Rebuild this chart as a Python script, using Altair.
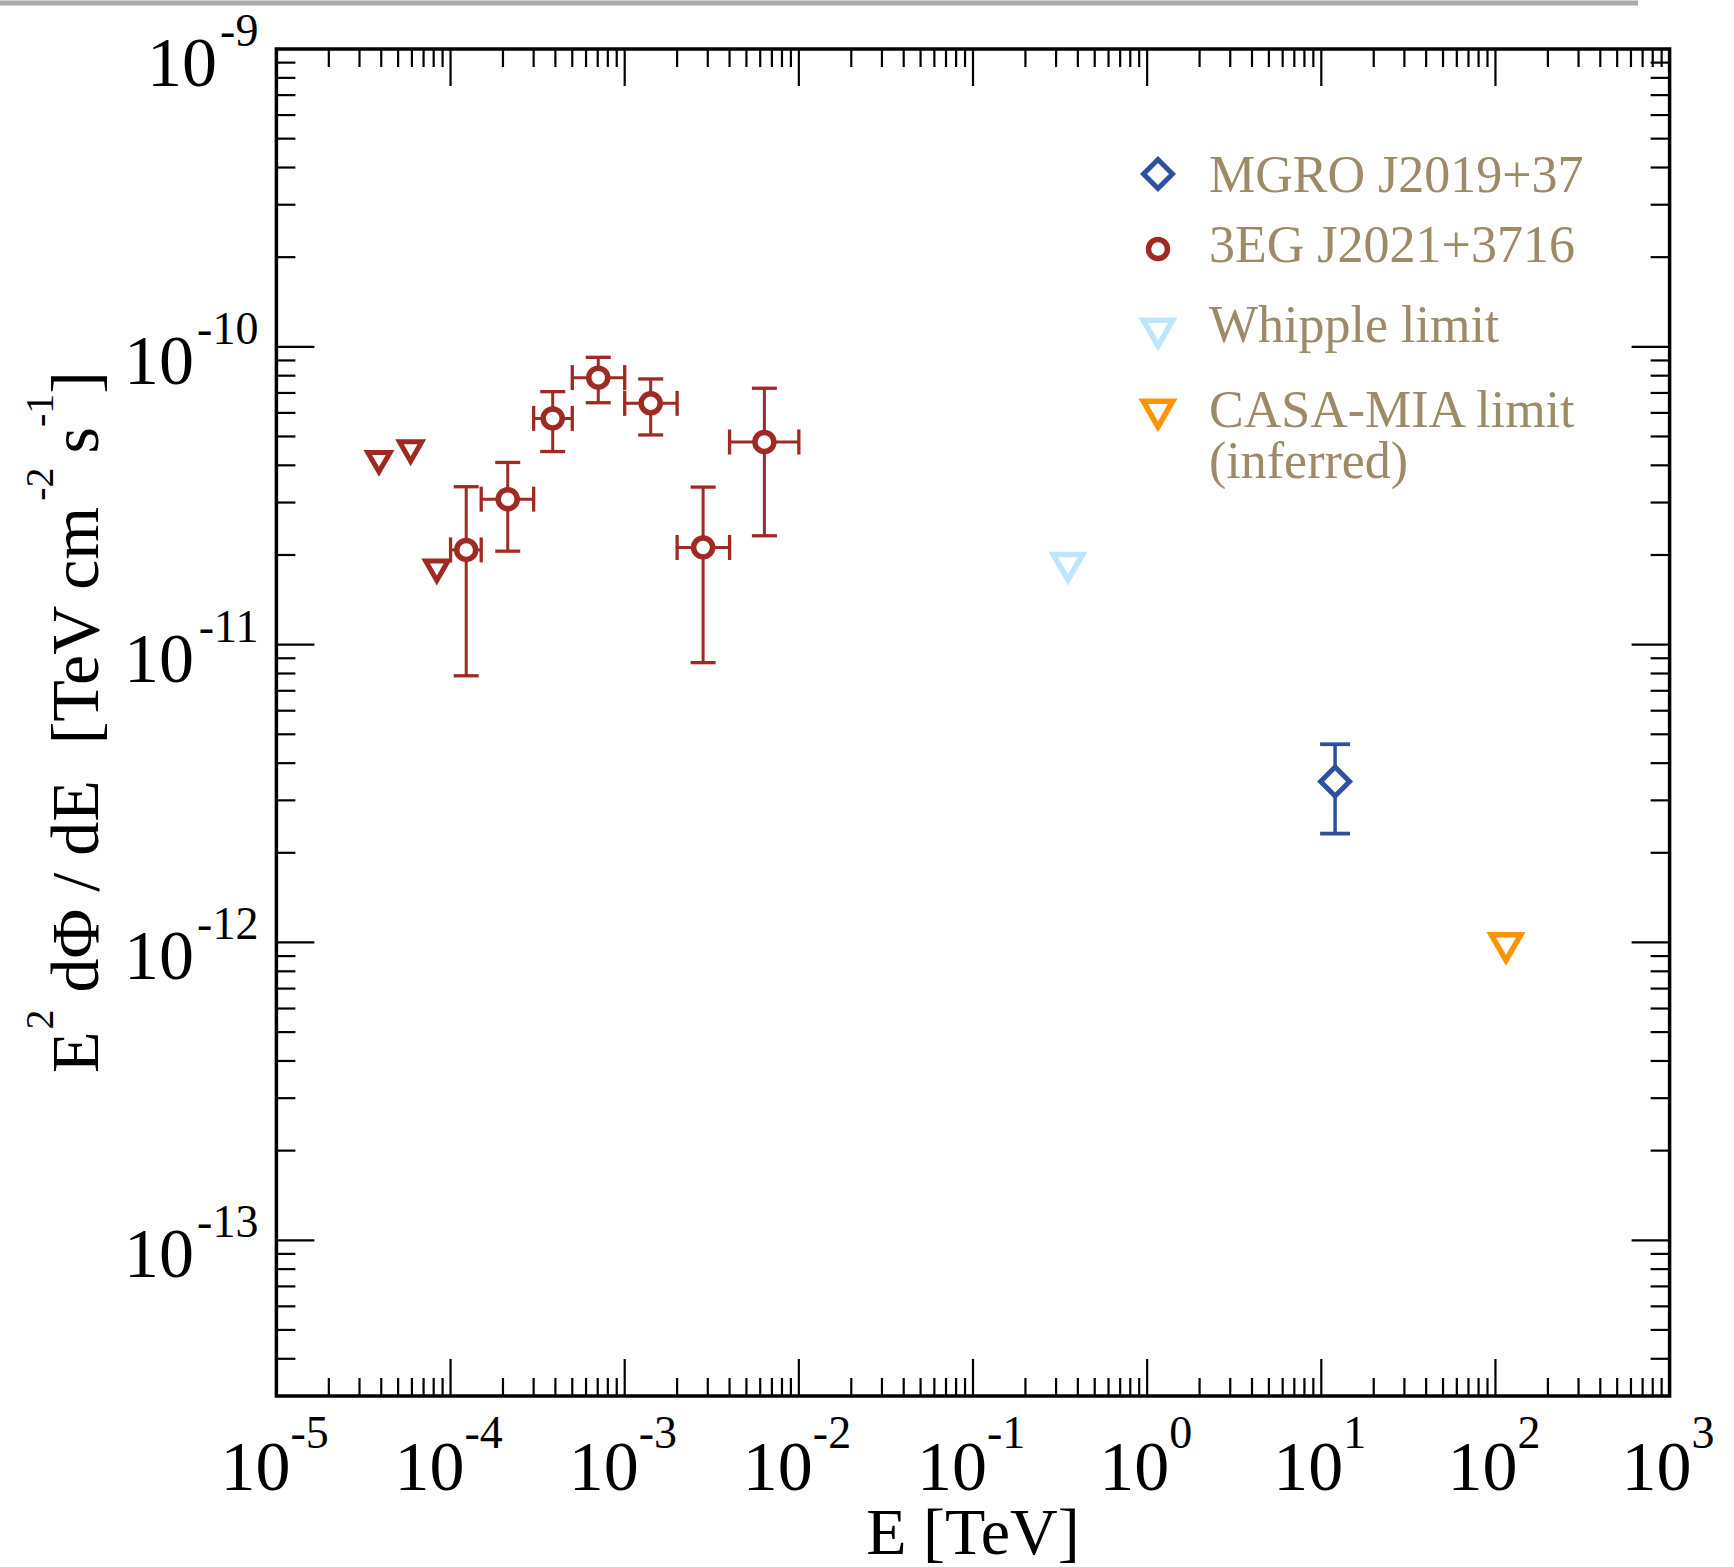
import altair as alt
import pandas as pd

# ---------------- data ----------------
# 3EG J2021+3716 (EGRET) spectral points, TeV / TeV cm^-2 s^-1
egret_E = [1.23e-4, 2.13e-4, 3.86e-4, 7.05e-4, 1.41e-3, 2.82e-3, 6.34e-3]
egret_Elo = [1.0e-4, 1.5e-4, 3.0e-4, 5.0e-4, 1.0e-3, 2.0e-3, 4.0e-3]
egret_Ehi = [1.5e-4, 3.0e-4, 5.0e-4, 1.0e-3, 2.0e-3, 4.0e-3, 1.0e-2]
egret_F = [2.08e-11, 3.08e-11, 5.75e-11, 7.88e-11, 6.46e-11, 2.12e-11, 4.79e-11]
egret_Flo = [7.86e-12, 2.06e-11, 4.45e-11, 6.49e-11, 5.06e-11, 8.7e-12, 2.32e-11]
egret_Fhi = [3.39e-11, 4.09e-11, 7.07e-11, 9.22e-11, 7.80e-11, 3.38e-11, 7.26e-11]
# 3EG upper limits
egret_ul_E = [3.88e-5, 5.90e-5, 8.34e-5]
egret_ul_F = [4.10e-11, 4.45e-11, 1.77e-11]
# Whipple limit
whipple_E = [0.351]
whipple_F = [1.82e-11]
# CASA-MIA limit (inferred)
casa_E = [115.0]
casa_F = [9.61e-13]
# MGRO J2019+37
mgro_E = [12.0]
mgro_F = [3.47e-12]
mgro_Flo = [2.32e-12]
mgro_Fhi = [4.63e-12]

legend_labels = [["MGRO J2019+37"], ["3EG J2021+3716"], ["Whipple limit"], ["CASA-MIA limit", "(inferred)"]]
x_tick_exps = ["-5", "-4", "-3", "-2", "-1", "0", "1", "2", "3"]
y_tick_exps = ["-9", "-10", "-11", "-12", "-13"]
x_title = "E [TeV]"
y_title_parts = ["E", "2", "d\u03a6 / dE", "[TeV cm", "-2", "s", "-1", "]"]

# ---------------- styling / layout ----------------
RED = "#9E2A23"
BLUE = "#2F50A0"
LIGHTBLUE = "#BDE5FD"
ORANGE = "#FF9300"
LEGTXT = "#9D8A67"
FONT = "Liberation Serif"

W, H = 1393.2, 1347.0
PAD_L, PAD_T = 276.4, 49.0

x_scale = alt.Scale(type="log", domain=[1e-5, 1e3], nice=False)
y_scale = alt.Scale(type="log", domain=[3e-14, 1e-9], nice=False)


def X(f):
    return alt.X(f, type="quantitative", scale=x_scale, axis=None)


def X2(f):
    return alt.X2(f)


def Y(f):
    return alt.Y(f, type="quantitative", scale=y_scale, axis=None)


def Y2(f):
    return alt.Y2(f)


one = pd.DataFrame({"a": [0]})
layers = []

# ---------------- inward ticks ----------------
x_major = [10.0 ** int(e) for e in x_tick_exps]
x_minor = [m * 10.0 ** k for k in range(-5, 3) for m in range(2, 10)]
y_major = [10.0 ** int(e) for e in y_tick_exps]
y_minor = [m * 10.0 ** k for k in range(-14, -9) for m in range(2, 10) if m * 10.0 ** k > 3.5e-14]

for vals, L in [(x_minor, 18), (x_major, 37)]:
    d = pd.DataFrame({"v": vals})
    b = alt.Chart(d).mark_rule(color="black", strokeWidth=2.2)
    layers.append(b.encode(x=X("v"), y=alt.value(H), y2=alt.value(H - L)))
    layers.append(b.encode(x=X("v"), y=alt.value(0), y2=alt.value(L)))
for vals, L in [(y_minor, 19), (y_major, 38)]:
    d = pd.DataFrame({"v": vals})
    b = alt.Chart(d).mark_rule(color="black", strokeWidth=2.2)
    layers.append(b.encode(y=Y("v"), x=alt.value(0), x2=alt.value(L)))
    layers.append(b.encode(y=Y("v"), x=alt.value(W), x2=alt.value(W - L)))

# ---------------- error bars ----------------
eg = pd.DataFrame({"E": egret_E, "Elo": egret_Elo, "Ehi": egret_Ehi,
                   "F": egret_F, "Flo": egret_Flo, "Fhi": egret_Fhi})
layers.append(alt.Chart(eg).mark_rule(color=RED, strokeWidth=3).encode(
    x=X("E"), y=Y("Flo"), y2=Y2("Fhi")))
layers.append(alt.Chart(eg).mark_rule(color=RED, strokeWidth=3).encode(
    x=X("Elo"), x2=X2("Ehi"), y=Y("F")))
for f in ["Flo", "Fhi"]:
    layers.append(alt.Chart(eg).mark_rule(color=RED, strokeWidth=3.3, xOffset=-12.5, x2Offset=12.5).encode(
        x=X("E"), x2=X2("E"), y=Y(f)))
for f in ["Elo", "Ehi"]:
    layers.append(alt.Chart(eg).mark_rule(color=RED, strokeWidth=3.3, yOffset=-12.5, y2Offset=12.5).encode(
        x=X(f), y=Y("F"), y2=Y2("F")))

mg = pd.DataFrame({"E": mgro_E, "F": mgro_F, "Flo": mgro_Flo, "Fhi": mgro_Fhi})
layers.append(alt.Chart(mg).mark_rule(color=BLUE, strokeWidth=3.5).encode(
    x=X("E"), y=Y("Flo"), y2=Y2("Fhi")))
for f in ["Flo", "Fhi"]:
    layers.append(alt.Chart(mg).mark_rule(color=BLUE, strokeWidth=3.8, xOffset=-15, x2Offset=15).encode(
        x=X("E"), x2=X2("E"), y=Y(f)))

# ---------------- symbols ----------------
def sym(shape, color, size, sw):
    return dict(shape=shape, filled=True, fill="white", stroke=color, strokeWidth=sw,
                size=size, opacity=1, fillOpacity=1, strokeOpacity=1)

CIRC = sym("circle", RED, 361, 5.5)
REDTRI = sym("triangle-down", RED, 500, 5)
WTRI = sym("triangle-down", LIGHTBLUE, 870, 5.5)
OTRI = sym("triangle-down", ORANGE, 870, 5.5)
DIAM = sym("diamond", BLUE, 840, 5)

layers.append(alt.Chart(eg).mark_point(**CIRC).encode(x=X("E"), y=Y("F")))
layers.append(alt.Chart(pd.DataFrame({"E": egret_ul_E, "F": egret_ul_F})).mark_point(**REDTRI).encode(
    x=X("E"), y=Y("F")))
layers.append(alt.Chart(pd.DataFrame({"E": whipple_E, "F": whipple_F})).mark_point(**WTRI).encode(
    x=X("E"), y=Y("F")))
layers.append(alt.Chart(pd.DataFrame({"E": casa_E, "F": casa_F})).mark_point(**OTRI).encode(
    x=X("E"), y=Y("F")))
layers.append(alt.Chart(mg).mark_point(**DIAM).encode(x=X("E"), y=Y("F")))

# ---------------- tick labels ----------------
BIG, SUP = 70, 46
xneg = pd.DataFrame({"v": [10.0 ** int(e) for e in x_tick_exps if e.startswith("-")],
                     "t": [e for e in x_tick_exps if e.startswith("-")]})
xpos = pd.DataFrame({"v": [10.0 ** int(e) for e in x_tick_exps if not e.startswith("-")],
                     "t": [e for e in x_tick_exps if not e.startswith("-")]})
for d, dx10, dxe in [(xneg, -56, 14), (xpos, -48, 22)]:
    layers.append(alt.Chart(d).mark_text(font=FONT, fontSize=BIG, align="left", baseline="alphabetic",
                                         dx=dx10, color="black").encode(
        x=X("v"), y=alt.value(H + 94), text=alt.value("10")))
    layers.append(alt.Chart(d).mark_text(font=FONT, fontSize=SUP, align="left", baseline="alphabetic",
                                         dx=dxe, color="black").encode(
        x=X("v"), y=alt.value(H + 52), text="t:N"))

y_short = pd.DataFrame({"v": [10.0 ** int(e) for e in y_tick_exps if len(e) == 2],
                        "t": [e for e in y_tick_exps if len(e) == 2]})
y_long = pd.DataFrame({"v": [10.0 ** int(e) for e in y_tick_exps if len(e) == 3],
                       "t": [e for e in y_tick_exps if len(e) == 3]})
for d, ew in [(y_short, 0.833 * SUP), (y_long, 1.333 * SUP)]:
    layers.append(alt.Chart(d).mark_text(font=FONT, fontSize=SUP, align="right", baseline="alphabetic",
                                         dy=-3, color="black").encode(
        y=Y("v"), x=alt.value(-18), text="t:N"))
    layers.append(alt.Chart(d).mark_text(font=FONT, fontSize=BIG, align="right", baseline="alphabetic",
                                         dy=37, color="black").encode(
        y=Y("v"), x=alt.value(-18 - ew - 3), text=alt.value("10")))

# ---------------- axis titles ----------------
layers.append(alt.Chart(one).mark_text(font=FONT, fontSize=66, align="center", baseline="alphabetic",
                                       color="black").encode(
    x=alt.value(W / 2), y=alt.value(H + 158), text=alt.value(x_title)))

# y title assembled from pieces (rotated), using Times-metric advance widths
TS, TSUP = 68, 40
adv = {"E": .611, "2": .5, "1": .5, "-": .333, " ": .25, "d": .5, "\u03a6": .76, "/": .278,
       "[": .333, "T": .611, "e": .444, "V": .722, "c": .444, "m": .778, "s": .389, "]": .333}


def width(s, size):
    return sum(adv.get(ch, .5) for ch in s) * size


is_sup = [False, True, False, False, True, False, True, False]
gap_after = [2, 17, 34, 0, 14, 0, 0, 0]
start_y = 1073 - PAD_T
base_x = 98 - PAD_L
off = 0.0
for part, sup, gap in zip(y_title_parts, is_sup, gap_after):
    size = TSUP if sup else TS
    layers.append(alt.Chart(one).mark_text(font=FONT, fontSize=size, align="left", baseline="alphabetic",
                                           angle=270, color="black").encode(
        x=alt.value(base_x - (45 if sup else 0)), y=alt.value(start_y - off), text=alt.value(part)))
    off += width(part, size) + gap

# ---------------- legend ----------------
sym_x = 1158 - PAD_L
txt_x = 1209 - PAD_L
sym_y = [174 - PAD_T, 249 - PAD_T, 333 - PAD_T, 414 - PAD_T]
txt_y = [191.7 - PAD_T, 261.7 - PAD_T, 341.7 - PAD_T, 426.7 - PAD_T]
for s, yy in zip([DIAM, CIRC, WTRI, OTRI], sym_y):
    layers.append(alt.Chart(one).mark_point(**s).encode(x=alt.value(sym_x), y=alt.value(yy)))
for lab, yy in zip(legend_labels, txt_y):
    layers.append(alt.Chart(one).mark_text(font=FONT, fontSize=52, align="left", baseline="alphabetic",
                                           lineHeight=51, color=LEGTXT).encode(
        x=alt.value(txt_x), y=alt.value(yy), text=alt.value(lab if len(lab) > 1 else lab[0])))

# page-edge grey line seen at the top of the reference crop
layers.append(alt.Chart(one).mark_rule(color="#AAAAAA", strokeWidth=5).encode(
    x=alt.value(-PAD_L), x2=alt.value(1638 - PAD_L), y=alt.value(3 - PAD_T)))

chart = alt.layer(*layers).properties(
    width=W, height=H,
    autosize=alt.AutoSizeParams(type="none"),
    padding={"left": PAD_L, "top": PAD_T, "right": 1734 - PAD_L - W, "bottom": 1567 - PAD_T - H},
    background="white",
).configure_view(stroke="black", strokeWidth=3.5)

chart.save("out.html", embed_options={"renderer": "svg", "actions": False})
